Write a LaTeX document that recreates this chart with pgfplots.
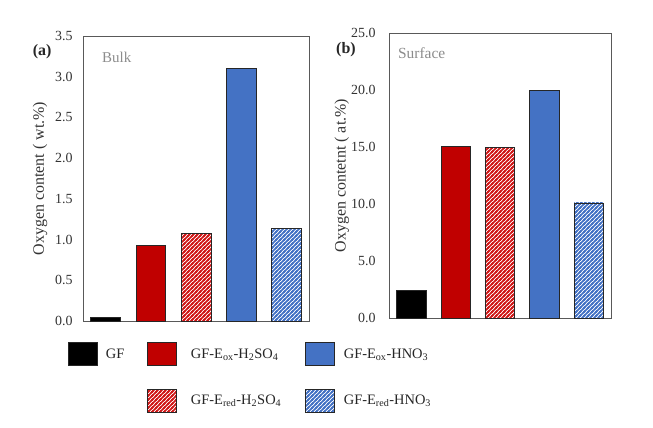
\documentclass[border=0pt]{standalone}
\usepackage{fontspec}
\setmainfont{Liberation Serif}
\usepackage{pgfplots}
\pgfplotsset{compat=1.18}
\usetikzlibrary{patterns}

\definecolor{gfred}{HTML}{C00000}
\definecolor{gfblue}{HTML}{4472C4}
\definecolor{hatchred}{HTML}{D01818}
\definecolor{hatchblue}{HTML}{4472C4}
\definecolor{framegray}{HTML}{595959}
\definecolor{notegray}{HTML}{8C8C8C}
\definecolor{tickgray}{HTML}{333333}

% wide diagonal stripes (lower left to upper right)
\pgfdeclarepatternformonly{widestripes}{\pgfqpoint{-1bp}{-1bp}}{\pgfqpoint{5bp}{5bp}}{\pgfqpoint{4bp}{4bp}}{
  \pgfsetlinewidth{1.6bp}
  \pgfpathmoveto{\pgfqpoint{-1bp}{-1bp}}\pgfpathlineto{\pgfqpoint{5bp}{5bp}}
  \pgfpathmoveto{\pgfqpoint{3bp}{-1bp}}\pgfpathlineto{\pgfqpoint{5bp}{1bp}}
  \pgfpathmoveto{\pgfqpoint{-1bp}{3bp}}\pgfpathlineto{\pgfqpoint{1bp}{5bp}}
  \pgfusepath{stroke}
}

\pgfplotsset{
  panel/.style={
    scale only axis,
    height=285bp,
    bar width=0.66,
    xmin=-0.5, xmax=4.5, ymin=0,
    xtick=\empty,
    major tick length=0pt,
    axis line style={framegray, line width=0.8pt},
    yticklabel style={/pgf/number format/fixed, /pgf/number format/fixed zerofill,
      /pgf/number format/precision=1, /pgf/number format/assume math mode=true,
      xshift=-7bp},
    tick label style={font=\fontsize{14}{16}\selectfont, text=tickgray},
    every axis plot/.append style={draw=black!85, line width=0.6pt},
    clip=false,
  },
  boxlegend/.style={legend image code/.code={\draw[##1] (0bp,-11.5bp) rectangle (29bp,11.5bp);}},
  solidbar/.style={ybar, bar shift=0pt, fill=#1, boxlegend},
  hatchbar/.style={ybar, bar shift=0pt, fill=white,
    postaction={pattern=widestripes, pattern color=#1}, boxlegend},
}

\begin{document}
\begin{tikzpicture}
\useasboundingbox (0bp,0bp) rectangle (653bp,428bp);

% (a) bulk oxygen content
\begin{axis}[panel,
  at={(83bp,107bp)}, anchor=south west,
  width=226bp,
  ymax=3.5, ytick={0,0.5,...,3.5},
  ylabel={Oxygen content ( wt.\%)},
  every axis y label/.style={at={(axis description cs:-0.19,0.5)}, rotate=90, anchor=center,
    font=\fontsize{16}{18}\selectfont, text=tickgray},
  legend columns=3,
  legend cell align=left,
  legend style={draw=none, at={(axis description cs:-0.066,-0.074)}, anchor=north west,
    font=\fontsize{14.5}{17}\selectfont, text=black!85, inner sep=0pt,
    row sep=23bp,
    /tikz/column 1/.style={column sep=6bp},
    /tikz/column 2/.style={column sep=21bp},
    /tikz/column 3/.style={column sep=12bp},
    /tikz/column 4/.style={column sep=22bp},
    /tikz/column 5/.style={column sep=7bp}},
]
\addplot[solidbar=black] coordinates {(0,0.05)};
\addlegendentry{GF}
\addplot[solidbar=gfred] coordinates {(1,0.93)};
\addlegendentry{GF-E\textsubscript{ox}-H\textsubscript{2}SO\textsubscript{4}}
\addplot[hatchbar=hatchred, forget plot] coordinates {(2,1.08)};
\addplot[solidbar=gfblue] coordinates {(3,3.10)};
\addlegendentry{GF-E\textsubscript{ox}-HNO\textsubscript{3}}
\addplot[hatchbar=hatchblue, forget plot] coordinates {(4,1.14)};
\addlegendimage{empty legend}
\addlegendentry{}
\addlegendimage{hatchbar=hatchred, draw=black!85, line width=0.6pt}
\addlegendentry{GF-E\textsubscript{red}-H\textsubscript{2}SO\textsubscript{4}}
\addlegendimage{hatchbar=hatchblue, draw=black!85, line width=0.6pt}
\addlegendentry{GF-E\textsubscript{red}-HNO\textsubscript{3}}
\node[anchor=west, inner sep=0pt, text=notegray, font=\fontsize{15}{17}\selectfont] at (axis description cs:0.084,0.926) {Bulk};
\node[text=black!85, font=\fontsize{16}{18}\selectfont\bfseries] at (axis description cs:-0.181,0.944) {(a)};
\end{axis}

% (b) surface oxygen content
\begin{axis}[panel,
  at={(389bp,110bp)}, anchor=south west,
  width=222bp,
  ymax=25, ytick={0,5,...,25},
  yticklabel style={xshift=-3bp},
  ylabel={Oxygen contetnt ( at.\%)},
  every axis y label/.style={at={(axis description cs:-0.212,0.5)}, rotate=90, anchor=center,
    font=\fontsize{16}{18}\selectfont, text=tickgray},
]
\addplot[solidbar=black] coordinates {(0,2.4)};
\addplot[solidbar=gfred] coordinates {(1,15.03)};
\addplot[hatchbar=hatchred] coordinates {(2,14.94)};
\addplot[solidbar=gfblue] coordinates {(3,19.94)};
\addplot[hatchbar=hatchblue] coordinates {(4,10.1)};
\node[anchor=west, inner sep=0pt, text=notegray, font=\fontsize{15.5}{17}\selectfont] at (axis description cs:0.04,0.93) {Surface};
\node[text=black!85, font=\fontsize{16}{18}\selectfont\bfseries] at (axis description cs:-0.194,0.940) {(b)};
\end{axis}
\end{tikzpicture}
\end{document}
